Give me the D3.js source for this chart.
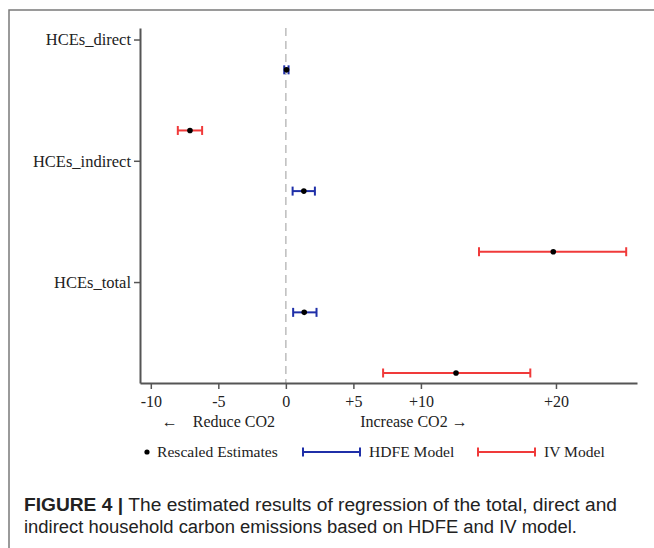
<!DOCTYPE html>
<html>
<head>
<meta charset="utf-8">
<script src="https://cdn.jsdelivr.net/npm/d3@7"></script>
<style>
  body { margin: 0; background: #fff; }
  svg { display: block; }
</style>
</head>
<body>
<div id="chart"></div>
<script>
// categories and the two models' rescaled estimates with confidence bounds
var categories = ["HCEs_direct", "HCEs_indirect", "HCEs_total"];
var hdfeEst = [0.05, 1.33, 1.36];
var hdfeLo  = [-0.12, 0.5, 0.54];
var hdfeHi  = [0.2, 2.15, 2.27];
var ivEst = [-7.1, 19.8, 12.6];
var ivLo  = [-8.0, 14.3, 7.2];
var ivHi  = [-6.2, 25.2, 18.1];
var xTicks = [-10, -5, 0, 5, 10, 20];

var width = 654, height = 548;
var plotLeft = 140, plotRight = 637, plotTop = 28, plotBottom = 383;
var red = "#f03a3a", blue = "#1f2fa8", axisCol = "#555";

var svg = d3.select("#chart").append("svg")
    .attr("width", width)
    .attr("height", height);

// outer frame (top and left only)
svg.append("path")
    .attr("d", "M9,548 V10 H654")
    .attr("fill", "none")
    .attr("stroke", "#7a7a7a")
    .attr("stroke-width", 1.5);

var x = d3.scaleLinear().domain([-10.8, 26]).range([plotLeft, plotRight]);
// each category: label slot, then HDFE row, then IV row
var y = d3.scaleLinear().domain([-0.69, 5.165]).range([plotTop, plotBottom]);

// zero reference line
svg.append("line")
    .attr("x1", x(0)).attr("x2", x(0))
    .attr("y1", plotTop).attr("y2", plotBottom)
    .attr("stroke", "#bdbdbd")
    .attr("stroke-width", 1.5)
    .attr("stroke-dasharray", "8,5");

// x axis
var xAxis = svg.append("g")
    .attr("transform", "translate(0," + plotBottom + ")")
    .call(d3.axisBottom(x).tickValues(xTicks).tickSize(6).tickSizeOuter(0)
        .tickFormat(function(d) { return d > 0 ? "+" + d : d; }));
xAxis.select(".domain").attr("stroke", axisCol).attr("stroke-width", 2);
xAxis.selectAll(".tick line").attr("stroke", axisCol).attr("stroke-width", 1.5);
xAxis.selectAll(".tick text")
    .attr("y", 13)
    .attr("fill", "#222")
    .style("font-family", "'Liberation Serif', 'Times New Roman', serif")
    .style("font-size", "16px");

// y axis with category labels
var yAxis = svg.append("g")
    .attr("transform", "translate(" + plotLeft + ",0)")
    .call(d3.axisLeft(y).tickValues(categories.map(function(c, i) { return 2 * i - 0.5; }))
        .tickSize(6).tickSizeOuter(0)
        .tickFormat(function(d, i) { return categories[i]; }));
yAxis.select(".domain").attr("stroke", axisCol).attr("stroke-width", 2);
yAxis.selectAll(".tick line").attr("stroke", axisCol).attr("stroke-width", 1.5);
yAxis.selectAll(".tick text")
    .attr("x", -9)
    .attr("fill", "#222")
    .style("font-family", "'Liberation Serif', 'Times New Roman', serif")
    .style("font-size", "16.5px");

// direction labels under the axis
var dirFont = "'Liberation Serif', 'Times New Roman', serif";
svg.append("text").attr("x", x(-8.6)).attr("y", 427).attr("text-anchor", "middle")
    .style("font-family", dirFont).style("font-size", "16px").attr("fill", "#222").text("\u2190");
svg.append("text").attr("x", x(-3.85)).attr("y", 427).attr("text-anchor", "middle")
    .style("font-family", dirFont).style("font-size", "16px").attr("fill", "#222").text("Reduce CO2");
svg.append("text").attr("x", x(5.5)).attr("y", 427).attr("text-anchor", "start")
    .style("font-family", dirFont).style("font-size", "16px").attr("fill", "#222").text("Increase CO2 \u2192");

// build rows
var rows = [];
categories.forEach(function(c, i) {
  rows.push({ pos: 2 * i, est: hdfeEst[i], lo: hdfeLo[i], hi: hdfeHi[i], color: blue });
  rows.push({ pos: 2 * i + 1, est: ivEst[i], lo: ivLo[i], hi: ivHi[i], color: red });
});

var g = svg.append("g");
var capH = 4.5;
var bars = g.selectAll("g.row").data(rows).enter().append("g").attr("class", "row");
bars.append("line")
    .attr("x1", function(d) { return x(d.lo); })
    .attr("x2", function(d) { return x(d.hi); })
    .attr("y1", function(d) { return y(d.pos); })
    .attr("y2", function(d) { return y(d.pos); })
    .attr("stroke", function(d) { return d.color; })
    .attr("stroke-width", 2);
bars.append("line")
    .attr("x1", function(d) { return x(d.lo); })
    .attr("x2", function(d) { return x(d.lo); })
    .attr("y1", function(d) { return y(d.pos) - capH; })
    .attr("y2", function(d) { return y(d.pos) + capH; })
    .attr("stroke", function(d) { return d.color; })
    .attr("stroke-width", 2);
bars.append("line")
    .attr("x1", function(d) { return x(d.hi); })
    .attr("x2", function(d) { return x(d.hi); })
    .attr("y1", function(d) { return y(d.pos) - capH; })
    .attr("y2", function(d) { return y(d.pos) + capH; })
    .attr("stroke", function(d) { return d.color; })
    .attr("stroke-width", 2);
bars.append("circle")
    .attr("cx", function(d) { return x(d.est); })
    .attr("cy", function(d) { return y(d.pos); })
    .attr("r", 2.8)
    .attr("fill", "#000");

// legend
var ly = 452;
var legFont = "'Liberation Serif', 'Times New Roman', serif";
svg.append("circle").attr("cx", 147).attr("cy", ly).attr("r", 2.6).attr("fill", "#000");
svg.append("text").attr("x", 157).attr("y", ly).attr("dy", "0.35em")
    .style("font-family", legFont).style("font-size", "15.6px").attr("fill", "#222").text("Rescaled Estimates");

function legendBar(x0, x1, color, label) {
  var lg = svg.append("g");
  lg.append("line").attr("x1", x0).attr("x2", x1).attr("y1", ly).attr("y2", ly)
    .attr("stroke", color).attr("stroke-width", 2);
  [x0, x1].forEach(function(xx) {
    lg.append("line").attr("x1", xx).attr("x2", xx).attr("y1", ly - capH).attr("y2", ly + capH)
      .attr("stroke", color).attr("stroke-width", 2);
  });
  lg.append("text").attr("x", x1 + 9).attr("y", ly).attr("dy", "0.35em")
    .style("font-family", legFont).style("font-size", "15.6px").attr("fill", "#222").text(label);
}
legendBar(303, 360, blue, "HDFE Model");
legendBar(478, 535, red, "IV Model");

// caption
var capFont = "'Liberation Sans Narrow', 'Liberation Sans', Arial, sans-serif";
var c1 = svg.append("text").attr("x", 24).attr("y", 511)
    .style("font-family", capFont).style("font-size", "18px").attr("fill", "#222")
    .attr("textLength", 593).attr("lengthAdjust", "spacingAndGlyphs");
c1.append("tspan").style("font-weight", "bold").text("FIGURE 4 | ");
c1.append("tspan").text("The estimated results of regression of the total, direct and");
svg.append("text").attr("x", 24).attr("y", 533)
    .style("font-family", capFont).style("font-size", "18px").attr("fill", "#222")
    .attr("textLength", 553).attr("lengthAdjust", "spacingAndGlyphs")
    .text("indirect household carbon emissions based on HDFE and IV model.");
</script>
</body>
</html>
